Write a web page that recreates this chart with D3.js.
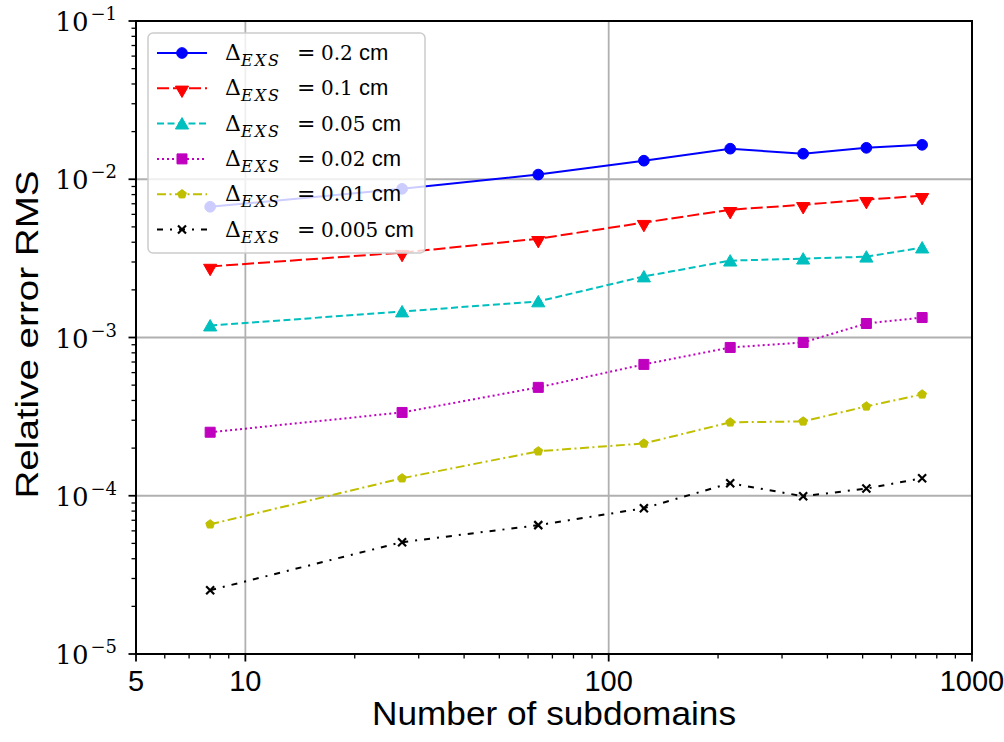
<!DOCTYPE html>
<html><head><meta charset="utf-8">
<script src="https://cdn.jsdelivr.net/npm/d3@7"></script>
<style>body{margin:0;background:#fff}svg{display:block}
.serif{font-family:"DejaVu Serif","Liberation Serif","Times New Roman",serif}
.sans{font-family:"Liberation Sans",Arial,sans-serif}
</style>
</head><body>
<svg id="c" width="1004" height="742"></svg>
<script>
const xValues = [8, 27, 64, 125, 216, 343, 512, 729];
const s02   = [0.0067, 0.0087, 0.0107, 0.0131, 0.0156, 0.0145, 0.0158, 0.0165];
const s01   = [0.00281, 0.00344, 0.00421, 0.00532, 0.00642, 0.0069, 0.00743, 0.00787];
const s005  = [0.00119, 0.00146, 0.00169, 0.00243, 0.00306, 0.00315, 0.00324, 0.0037];
const s002  = [0.000252, 0.000336, 0.000484, 0.000676, 0.000865, 0.00093, 0.001226, 0.001337];
const s001  = [6.6e-5, 1.29e-4, 1.91e-4, 2.14e-4, 2.91e-4, 2.95e-4, 3.67e-4, 4.37e-4];
const s0005 = [2.53e-5, 5.09e-5, 6.52e-5, 8.34e-5, 1.2e-4, 9.93e-5, 1.11e-4, 1.29e-4];
const seriesLabels = ["0.2", "0.1", "0.05", "0.02", "0.01", "0.005"];
const xTickLabels = ["5", "10", "100", "1000"];
const xTickValues = [5, 10, 100, 1000];
const yTickValues = [1e-5, 1e-4, 1e-3, 1e-2, 1e-1];
const yTickExps = ["−5", "−4", "−3", "−2", "−1"];
const xLabel = "Number of subdomains";
const yLabel = "Relative error RMS";

const seriesData = [s02, s01, s005, s002, s001, s0005];
const styles = [
  {color:"#0000ff", dash:null, marker:"circle"},
  {color:"#ff0000", dash:"12,4", marker:"tridown"},
  {color:"#00bfbf", dash:"7,3.5", marker:"triup"},
  {color:"#bf00bf", dash:"2,3", marker:"square"},
  {color:"#bfbf00", dash:"9,3.5,2,3.5", marker:"pentagon"},
  {color:"#000000", dash:"6,7,2,7", marker:"x"}
];

const L = 136, R = 972, T = 21, B = 654;
const svg = d3.select("#c");
const x = d3.scaleLog().domain([5, 1000]).range([L, R]);
const y = d3.scaleLog().domain([1e-5, 1e-1]).range([B, T]);

// grid
const g = svg.append("g");
[10, 100].forEach(v => g.append("line").attr("x1", x(v)).attr("x2", x(v)).attr("y1", T).attr("y2", B)
  .attr("stroke", "#b0b0b0").attr("stroke-width", 1.8));
[1e-4, 1e-3, 1e-2].forEach(v => g.append("line").attr("x1", L).attr("x2", R).attr("y1", y(v)).attr("y2", y(v))
  .attr("stroke", "#b0b0b0").attr("stroke-width", 1.8));

function markerPath(type) {
  if (type === "circle") return d3.symbol(d3.symbolCircle, 90)();
  if (type === "triup" || type === "tridown") return d3.symbol(d3.symbolTriangle, 75)();
  if (type === "square") return d3.symbol(d3.symbolSquare, 100)();
  if (type === "pentagon") {
    const r = 4.6; let p = "";
    for (let i = 0; i < 5; i++) { const a = -Math.PI/2 + i*2*Math.PI/5; p += (i?"L":"M") + (r*Math.cos(a)).toFixed(2) + "," + (r*Math.sin(a)).toFixed(2); }
    return p + "Z";
  }
  return "M-4,-4L4,4M-4,4L4,-4";
}
function drawMarker(sel, type, color, cx, cy) {
  let tr = `translate(${cx},${cy})`;
  if (type === "tridown") tr += " rotate(180) translate(0,-1.6)";
  if (type === "triup") tr += " translate(0,1.6)";
  const p = sel.append("path").attr("d", markerPath(type)).attr("transform", tr);
  if (type === "x") p.attr("fill", "none").attr("stroke", color).attr("stroke-width", 2.2);
  else p.attr("fill", color).attr("stroke", color).attr("stroke-width", 1);
}

const line = d3.line().x(d => x(d[0])).y(d => y(d[1]));
const plot = svg.append("g");
seriesData.forEach((vals, i) => {
  const st = styles[i];
  const pts = xValues.map((xv, j) => [xv, vals[j]]);
  const path = plot.append("path").attr("d", line(pts)).attr("fill", "none")
    .attr("stroke", st.color).attr("stroke-width", 2);
  if (st.dash) path.attr("stroke-dasharray", st.dash);
  pts.forEach(p => drawMarker(plot, st.marker, st.color, x(p[0]), y(p[1])));
});

// axes frame
svg.append("rect").attr("x", L).attr("y", T).attr("width", R - L).attr("height", B - T)
  .attr("fill", "none").attr("stroke", "#000").attr("stroke-width", 2);

// x ticks
const xMinor = [];
[1, 10, 100].forEach(dec => { for (let k = 2; k <= 9; k++) { const v = k * dec; if (v > 5 && v < 1000 && v !== 10 && v !== 100) xMinor.push(v); } });
xMinor.forEach(v => svg.append("line").attr("x1", x(v)).attr("x2", x(v)).attr("y1", B).attr("y2", B + 4.5).attr("stroke", "#000").attr("stroke-width", 1.3));
xTickValues.forEach((v, i) => {
  svg.append("line").attr("x1", x(v)).attr("x2", x(v)).attr("y1", B).attr("y2", B + 7.5).attr("stroke", "#000").attr("stroke-width", 1.8);
  svg.append("text").attr("class", "sans").attr("x", x(v)).attr("y", 691).attr("text-anchor", "middle")
    .attr("font-size", 29).text(xTickLabels[i]);
});

// y ticks
const yMinor = [];
[1e-5, 1e-4, 1e-3, 1e-2].forEach(dec => { for (let k = 2; k <= 9; k++) yMinor.push(k * dec); });
yMinor.forEach(v => svg.append("line").attr("x1", L - 4.5).attr("x2", L).attr("y1", y(v)).attr("y2", y(v)).attr("stroke", "#000").attr("stroke-width", 1.3));
yTickValues.forEach((v, i) => {
  svg.append("line").attr("x1", L - 7.5).attr("x2", L).attr("y1", y(v)).attr("y2", y(v)).attr("stroke", "#000").attr("stroke-width", 1.8);
  const t = svg.append("text").attr("class", "serif").attr("x", 117).attr("y", y(v) + 10).attr("text-anchor", "end")
    .attr("font-size", 26);
  t.append("tspan").text("10");
  t.append("tspan").attr("font-size", 18).attr("dy", -11).attr("dx", 2).text(yTickExps[i]);
});

// axis labels
svg.append("text").attr("class", "sans").attr("x", (L + R) / 2).attr("y", 725).attr("text-anchor", "middle")
  .attr("font-size", 33)
  .attr("textLength", 364).attr("lengthAdjust", "spacingAndGlyphs").text(xLabel);
svg.append("text").attr("class", "sans").attr("transform", `translate(38,${(172 + 497) / 2}) rotate(-90)`).attr("text-anchor", "middle")
  .attr("font-size", 31)
  .attr("textLength", 328).attr("lengthAdjust", "spacingAndGlyphs").text(yLabel);

// legend
const lg = svg.append("g");
lg.append("rect").attr("x", 148).attr("y", 33).attr("width", 277).attr("height", 220).attr("rx", 5)
  .attr("fill", "#fff").attr("fill-opacity", 0.8).attr("stroke", "#cccccc").attr("stroke-width", 1.5);
seriesLabels.forEach((lab, i) => {
  const st = styles[i];
  const cy = 53 + i * 35.3;
  const ln = lg.append("line").attr("x1", 157).attr("x2", 207).attr("y1", cy).attr("y2", cy)
    .attr("stroke", st.color).attr("stroke-width", 2);
  if (st.dash) ln.attr("stroke-dasharray", st.dash);
  drawMarker(lg, st.marker, st.color, 182, cy);
  const t = lg.append("text").attr("class", "serif").attr("x", 225).attr("y", cy + 7)
    .attr("font-size", 22);
  t.append("tspan").text("Δ");
  t.append("tspan").attr("x", 241).attr("dy", 6).attr("font-size", 16).attr("font-style", "italic")
    .attr("letter-spacing", 2).text("EXS");
  t.append("tspan").attr("x", 297).attr("dy", -6).text("=");
  t.append("tspan").attr("x", 321).attr("font-size", 20).text(lab);
  t.append("tspan").attr("class", "sans").attr("font-size", 22).text(" cm");
});
</script>
</body></html>
